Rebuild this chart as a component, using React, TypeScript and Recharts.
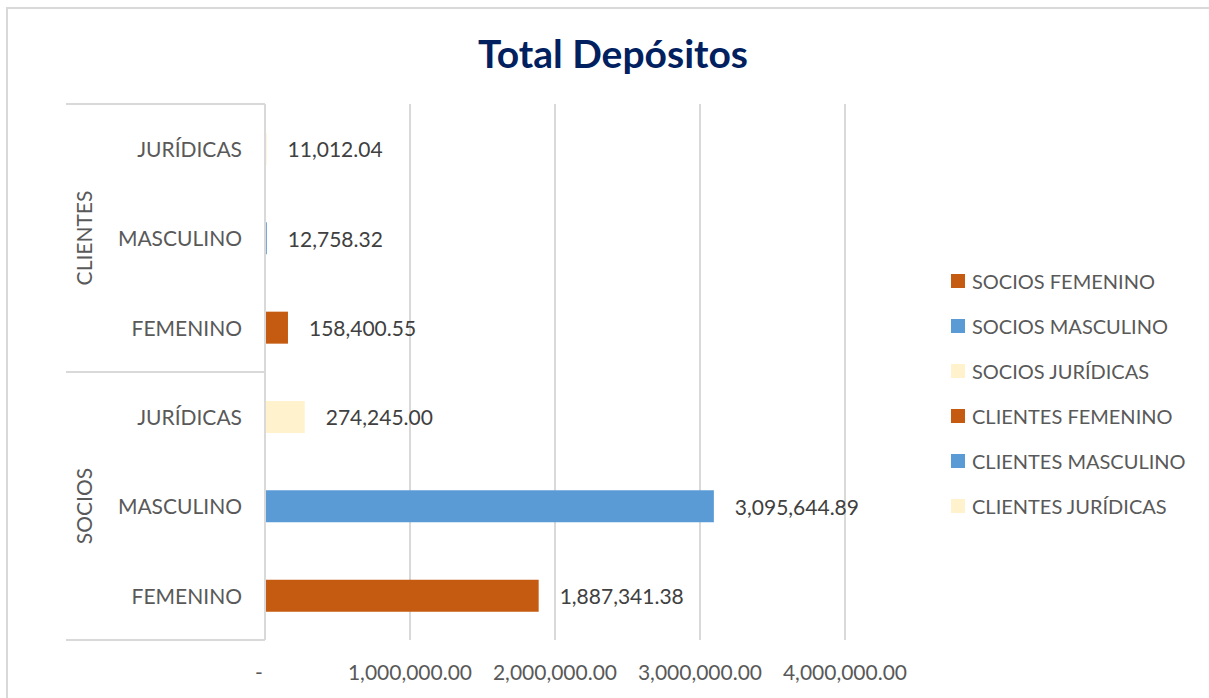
import React from "react";
import {
  BarChart, Bar, XAxis, YAxis, CartesianGrid, Cell, LabelList
} from "recharts";

// top to bottom, as in the picture
const groups = ["CLIENTES", "CLIENTES", "CLIENTES", "SOCIOS", "SOCIOS", "SOCIOS"];
const categories = ["JURÍDICAS", "MASCULINO", "FEMENINO", "JURÍDICAS", "MASCULINO", "FEMENINO"];
const values = [11012.04, 12758.32, 158400.55, 274245.0, 3095644.89, 1887341.38];
const xTicks = [0, 1000000, 2000000, 3000000, 4000000];
const legendNames = [
  "SOCIOS FEMENINO",
  "SOCIOS MASCULINO",
  "SOCIOS JURÍDICAS",
  "CLIENTES FEMENINO",
  "CLIENTES MASCULINO",
  "CLIENTES JURÍDICAS",
];

const COLORS: Record<string, string> = {
  FEMENINO: "#C55A11",
  MASCULINO: "#5B9BD5",
  "JURÍDICAS": "#FFF2CC",
};

const FONT = "Lato, 'Noto Sans', sans-serif";
const TEXT = "#595959";
const GRID = "#d9d9d9";

const W = 1209;
const H = 698;
const PLOT_TOP = 104;
const PLOT_BOTTOM = 640;
const PLOT_LEFT = 265;
const PLOT_RIGHT = 845;
const Y_AXIS_W = 200;
const X_AXIS_H = 40;
const BAND = (PLOT_BOTTOM - PLOT_TOP) / categories.length;

const data = categories.map((c, i) => ({
  label: `${groups[i]} ${c}`,
  cat: c,
  group: groups[i],
  value: values[i],
}));

const fmt = (v: number) =>
  v.toLocaleString("en-US", { minimumFractionDigits: 2, maximumFractionDigits: 2 });

const CategoryTick = (props: any) => {
  const { y, index } = props;
  const row = data[index];
  if (!row) return null;
  const last = index === data.length - 1 || data[index + 1].group !== row.group;
  const middle =
    index > 0 && index < data.length - 1 &&
    data[index - 1].group === row.group && data[index + 1].group === row.group;
  return (
    <g>
      <text x={242} y={y + 1} dy="0.35em" textAnchor="end" fill={TEXT}
        fontFamily={FONT} fontSize={21}>
        {row.cat}
      </text>
      {middle && (
        <text x={85} y={y} dy="0.35em" textAnchor="middle" fill={TEXT}
          fontFamily={FONT} fontSize={21} transform={`rotate(-90 85 ${y})`}>
          {row.group}
        </text>
      )}
      {index === 0 && (
        <line x1={66} x2={PLOT_LEFT} y1={y - BAND / 2} y2={y - BAND / 2} stroke={GRID} strokeWidth={2} />
      )}
      {last && (
        <line x1={66} x2={PLOT_LEFT} y1={y + BAND / 2} y2={y + BAND / 2} stroke={GRID} strokeWidth={2} />
      )}
    </g>
  );
};

const ValueTick = (props: any) => {
  const { x, payload } = props;
  const v = payload.value as number;
  return (
    <text x={v === 0 ? x - 6 : x} y={673} dy="0.35em" textAnchor="middle" fill={TEXT}
      fontFamily={FONT} fontSize={21}>
      {v === 0 ? "-" : fmt(v)}
    </text>
  );
};

const ValueLabel = (props: any) => {
  const { x, y, width, height, value } = props;
  return (
    <text x={x + width + 21} y={y + height / 2 + 1} dy="0.35em" textAnchor="start"
      fill="#404040" fontFamily={FONT} fontSize={21}>
      {fmt(value)}
    </text>
  );
};

export default function App() {
  return (
    <div style={{ position: "absolute", left: 0, top: 0, width: W, height: H, background: "#fff", overflow: "hidden" }}>
      <div style={{
        position: "absolute", left: 6, top: 7, width: W, height: H,
        borderLeft: `2px solid ${GRID}`, borderTop: `2px solid ${GRID}`,
      }} />
      <div style={{
        position: "absolute", left: 0, width: 1226, top: 30, textAlign: "center",
        fontFamily: FONT, fontWeight: 700, fontSize: 39, color: "#002060",
      }}>
        Total Depósitos
      </div>
      <div style={{ position: "absolute", left: 0, top: 0 }}>
        <BarChart
          width={W}
          height={H}
          data={data}
          layout="vertical"
          margin={{
            top: PLOT_TOP,
            bottom: H - PLOT_BOTTOM - X_AXIS_H,
            left: PLOT_LEFT - Y_AXIS_W,
            right: W - PLOT_RIGHT,
          }}
          barCategoryGap={0}
        >
          <CartesianGrid horizontal={false} stroke={GRID} strokeWidth={2} />
          <XAxis
            type="number"
            domain={[0, 4000000]}
            ticks={xTicks}
            height={X_AXIS_H}
            axisLine={false}
            tickLine={false}
            tick={<ValueTick />}
            interval={0}
          />
          <YAxis
            type="category"
            dataKey="label"
            width={Y_AXIS_W}
            axisLine={{ stroke: GRID, strokeWidth: 2 }}
            tickLine={false}
            tick={<CategoryTick />}
            interval={0}
          />
          <Bar dataKey="value" barSize={32} isAnimationActive={false}>
            {data.map((d, i) => (
              <Cell key={i} fill={COLORS[d.cat]} />
            ))}
            <LabelList dataKey="value" content={<ValueLabel />} />
          </Bar>
        </BarChart>
      </div>
      <div style={{ position: "absolute", left: 951, top: 258 }}>
        {legendNames.map((name) => {
          const cat = name.split(" ")[1];
          return (
            <div key={name} style={{ display: "flex", alignItems: "center", height: 45 }}>
              <span style={{ width: 14, height: 14, background: COLORS[cat], marginRight: 7, flex: "none" }} />
              <span style={{ fontFamily: FONT, fontSize: 20, color: TEXT, lineHeight: "24px", whiteSpace: "nowrap" }}>
                {name}
              </span>
            </div>
          );
        })}
      </div>
    </div>
  );
}
